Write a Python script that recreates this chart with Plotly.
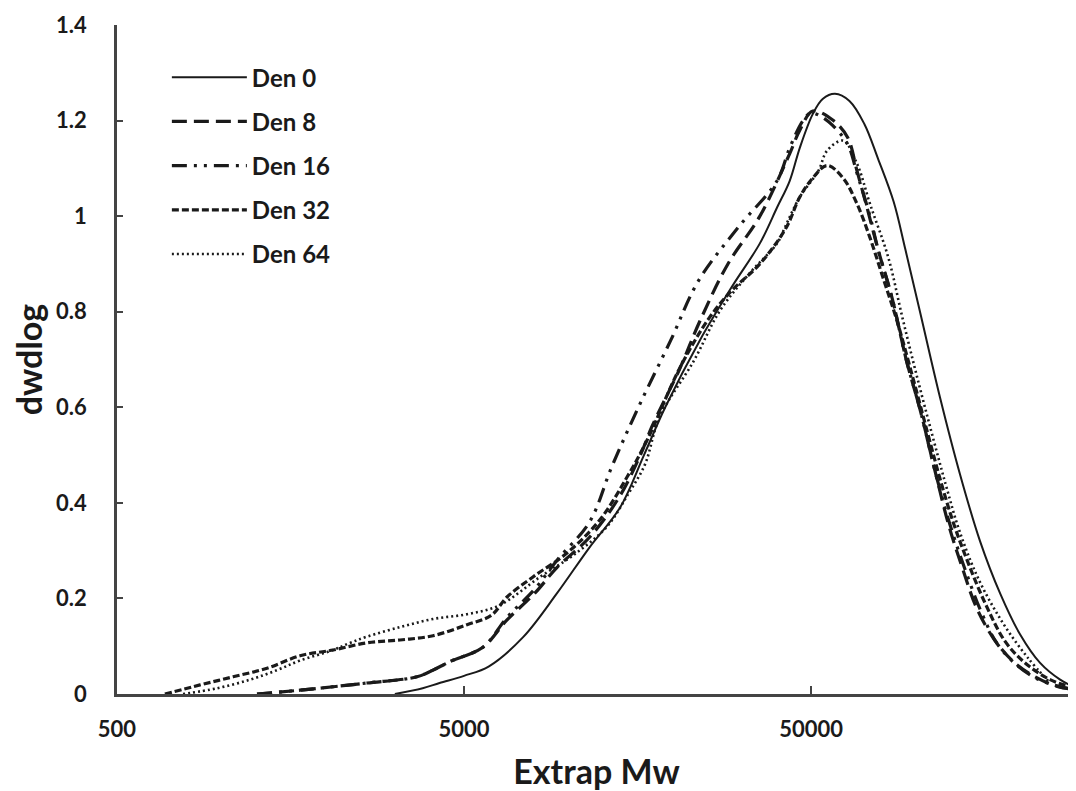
import plotly.graph_objects as go

# ---- data (x = Extrap Mw, y = dwdlog) ----
den0_x = [3160, 3800, 4250, 5000, 5900, 7400, 9270, 11500, 14100, 16500, 19000, 23900, 29500, 35600, 39900, 43400, 46400, 50600, 54000, 58600, 64500, 71200, 78000, 86500, 93500, 103000, 117700, 134300, 153400, 175400, 200000, 228500, 261000, 290000]
den0_y = [0.0, 0.012, 0.023, 0.038, 0.058, 0.119, 0.211, 0.307, 0.391, 0.50, 0.60, 0.74, 0.851, 0.943, 1.018, 1.074, 1.143, 1.214, 1.245, 1.256, 1.241, 1.193, 1.12, 1.03, 0.93, 0.80, 0.62, 0.46, 0.32, 0.21, 0.125, 0.065, 0.03, 0.013]

den8_x = [1266, 1684, 2626, 3660, 4070, 4560, 5670, 6650, 8000, 9270, 11500, 14000, 16200, 17400, 20900, 23900, 28800, 35600, 43400, 46400, 50600, 58000, 63800, 67800, 72000, 78000, 85500, 94000, 103500, 113500, 125000, 137000, 150000, 169000, 193000, 221000, 256000, 290000]
den8_y = [0.0, 0.008, 0.023, 0.036, 0.05, 0.068, 0.098, 0.155, 0.211, 0.265, 0.328, 0.412, 0.504, 0.56, 0.68, 0.78, 0.90, 1.0, 1.131, 1.18, 1.22, 1.20, 1.164, 1.095, 1.026, 0.93, 0.83, 0.70, 0.59, 0.47, 0.35, 0.26, 0.18, 0.113, 0.065, 0.036, 0.016, 0.01]

den16_x = [1266, 1684, 2626, 3660, 4070, 4560, 5670, 6650, 8000, 9270, 11500, 13300, 15900, 19700, 23700, 30800, 39900, 43400, 47400, 49900, 53000, 57700, 63800, 67800, 73900, 78000, 85500, 94000, 103500, 113500, 125000, 139000, 155000, 172000, 196000, 224000, 258000, 290000]
den16_y = [0.0, 0.008, 0.023, 0.036, 0.05, 0.068, 0.098, 0.16, 0.22, 0.28, 0.36, 0.474, 0.60, 0.74, 0.865, 0.976, 1.074, 1.143, 1.20, 1.216, 1.21, 1.19, 1.15, 1.09, 1.0, 0.93, 0.83, 0.70, 0.59, 0.47, 0.36, 0.26, 0.17, 0.105, 0.06, 0.032, 0.016, 0.008]

den32_x = [687, 868, 1080, 1353, 1684, 2097, 2626, 3270, 4070, 5100, 6000, 6650, 7900, 9900, 12300, 14750, 16840, 20950, 25500, 29500, 35600, 42400, 46400, 50600, 55600, 61800, 67800, 73900, 80600, 88500, 98400, 108000, 117700, 128300, 140800, 158700, 181200, 206900, 244200, 290000]
den32_y = [0.0, 0.019, 0.036, 0.054, 0.08, 0.092, 0.107, 0.113, 0.122, 0.145, 0.165, 0.203, 0.245, 0.295, 0.364, 0.454, 0.531, 0.683, 0.788, 0.844, 0.900, 0.976, 1.04, 1.08, 1.106, 1.08, 1.026, 0.955, 0.871, 0.78, 0.66, 0.55, 0.45, 0.36, 0.28, 0.19, 0.11, 0.065, 0.03, 0.012]

den64_x = [775, 971, 1209, 1446, 1684, 2097, 2347, 2626, 3270, 4070, 5100, 6300, 8280, 10300, 12900, 14900, 16600, 18300, 23000, 27300, 33200, 39900, 42000, 46400, 52500, 55600, 61800, 67800, 73900, 83500, 91500, 100500, 111000, 122000, 134000, 152000, 178000, 210000, 244000]
den64_y = [0.0, 0.012, 0.03, 0.05, 0.07, 0.092, 0.107, 0.12, 0.14, 0.157, 0.167, 0.185, 0.245, 0.29, 0.35, 0.42, 0.48, 0.579, 0.698, 0.802, 0.88, 0.943, 0.976, 1.04, 1.095, 1.137, 1.158, 1.11, 1.026, 0.913, 0.79, 0.67, 0.55, 0.44, 0.34, 0.24, 0.15, 0.077, 0.023]

names = ["Den 0", "Den 8", "Den 16", "Den 32", "Den 64"]
xs = [den0_x, den8_x, den16_x, den32_x, den64_x]
ys = [den0_y, den8_y, den16_y, den32_y, den64_y]
dashes = ["solid", "15px,7px", "15px,7px,3px,7px,3px,7px", "7px,3px", "2px,3px"]
widths = [2, 3.2, 3.2, 3.2, 2.6]

x_ticks = [500, 5000, 50000]
x_ticklabels = ["500", "5000", "50000"]
y_ticks = [0, 0.2, 0.4, 0.6, 0.8, 1.0, 1.2, 1.4]
y_ticklabels = ["0", "0.2", "0.4", "0.6", "0.8", "1", "1.2", "1.4"]

FONT = "Lato"
INK = "#1a1a1a"
fig = go.Figure()
for i in range(len(names)):
    fig.add_trace(go.Scatter(
        x=xs[i], y=ys[i], name=names[i], mode="lines",
        line=dict(color=INK, width=widths[i], dash=dashes[i], shape="spline", smoothing=1.0),
        legendgroup=names[i],
    ))

fig.update_layout(
    width=1076, height=791,
    margin=dict(l=109, r=8, t=17, b=105, autoexpand=False),
    paper_bgcolor="white", plot_bgcolor="white",
    font=dict(family=FONT, size=22, color=INK),
    showlegend=True,
    legend=dict(x=0.052, y=0.955, xanchor="left", yanchor="top",
                font=dict(family=FONT, size=24, color=INK, weight="bold"),
                tracegroupgap=10, bgcolor="rgba(0,0,0,0)", itemwidth=75),
    xaxis=dict(type="log", range=[2.699, 5.4624],
               tickvals=x_ticks, ticktext=x_ticklabels,
               ticks="inside", ticklen=8, tickwidth=1.5, tickcolor="#444",
               showline=True, linecolor="#444", linewidth=2.5,
               showgrid=False, zeroline=False, ticklabelstandoff=14,
               tickfont=dict(family=FONT, size=22, weight="bold", color=INK),
               title=dict(text="Extrap Mw", font=dict(family=FONT, size=34, weight="bold", color=INK), standoff=20)),
    yaxis=dict(range=[0, 1.4], tickvals=y_ticks, ticktext=y_ticklabels,
               ticks="inside", ticklen=6, tickwidth=1.5, tickcolor="#444",
               showline=True, linecolor="#444", linewidth=2.5,
               showgrid=False, zeroline=False, ticklabelstandoff=23,
               tickfont=dict(family=FONT, size=22, weight="bold", color=INK),
               title=dict(text="dwdlog", font=dict(family=FONT, size=34, weight="bold", color=INK), standoff=9)),
)

fig.write_html("out.html")
